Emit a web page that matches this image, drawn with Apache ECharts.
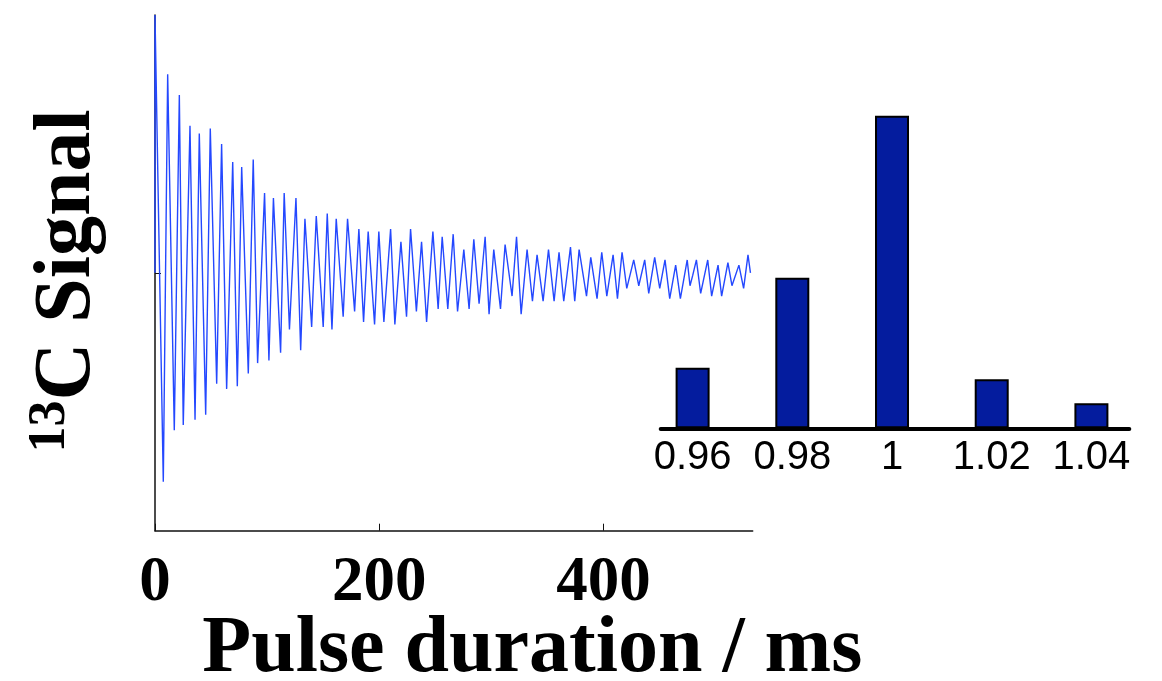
<!DOCTYPE html>
<html>
<head>
<meta charset="utf-8">
<script src="https://cdn.jsdelivr.net/npm/echarts@6/dist/echarts.min.js"></script>
<style>
  html, body { margin: 0; padding: 0; background: #fff; }
  #chart { width: 1162px; height: 681px; }
</style>
</head>
<body>
<div id="chart"></div>
<script>
// Pulse duration (ms) and normalised 13C signal at each sampled turning point
const pulseMs = [
  0, 0, 7.4, 11.3, 17.2, 21.7, 25.2, 31.2, 35.7, 39.5, 45.2, 49.3, 55.0, 59.4, 63.9, 69.3,
  73.4, 77.3, 83.2, 87.6, 91.5, 97.7, 101.6, 105.6, 112.0, 115.2, 119.9, 125.7, 129.9,
  133.7, 139.7, 143.8, 150.0, 153.6, 157.8, 161.6, 167.8, 171.7, 178.0, 181.8, 186.0,
  190.1, 195.8, 199.6, 204.1, 210.1, 213.9, 219.3, 224.3, 227.9, 233.1, 237.7, 242.2,
  247.8, 252.5, 256.1, 261.1, 265.9, 269.8, 275.4, 280.1, 284.3, 289.0, 294.4, 297.9,
  302.1, 308.1, 312.2, 318.4, 322.4, 326.5, 331.8, 336.6, 340.7, 346.1, 350.9, 355.9,
  360.3, 364.5, 370.5, 374.3, 378.2, 384.8, 388.6, 394.2, 398.4, 402.9, 408.5, 412.4,
  416.5, 420.7, 426.9, 431.4, 436.7, 440.3, 445.6, 450.1, 454.8, 459.0, 464.3, 468.5,
  474.6, 477.1, 479.5, 482.8, 486.6, 492.9, 496.4, 502.1, 505.3, 510.9, 514.5, 520.7,
  524.9, 528.8, 531.0
];
const signal = [
  0, 1.00, -0.81, 0.77, -0.61, 0.69, -0.59, 0.57, -0.57, 0.54, -0.55, 0.56, -0.43, 0.50, -0.45, 0.43,
  -0.44, 0.41, -0.39, 0.44, -0.35, 0.31, -0.34, 0.29, -0.31, 0.31, -0.22, 0.29, -0.30,
  0.21, -0.21, 0.22, -0.21, 0.23, -0.22, 0.21, -0.17, 0.21, -0.15, 0.17, -0.19,
  0.16, -0.20, 0.16, -0.19, 0.17, -0.20, 0.12, -0.17, 0.17, -0.15, 0.12, -0.19,
  0.16, -0.14, 0.14, -0.14, 0.15, -0.15, 0.09, -0.14, 0.13, -0.12, 0.14, -0.16,
  0.09, -0.14, 0.11, -0.09, 0.14, -0.16, 0.09, -0.11, 0.07, -0.11, 0.09, -0.11,
  0.08, -0.11, 0.10, -0.11, 0.09, -0.09, 0.06, -0.10, 0.08, -0.09, 0.07, -0.10,
  0.08, -0.06, 0.05, -0.05, 0.05, -0.08, 0.06, -0.06, 0.05, -0.10, 0.03, -0.10,
  0.05, -0.05, -0.01, 0.05, -0.08, 0.05, -0.09, 0.03, -0.09, 0.04, -0.05, 0.03,
  -0.06, 0.07, 0.00
];
const xTicks = [0, 200, 400];
const yTicks = [0];

// Inset: distribution over relative pulse amplitude (percent of the tallest bar)
const ratioCats = [0.96, 0.98, 1.00, 1.02, 1.04];
const ratioCounts = [19.4, 48.2, 100, 15.7, 8.0];

const serifBold = { fontFamily: 'Liberation Serif, Times New Roman, serif', fontWeight: 'bold', color: '#000' };

const chart = echarts.init(document.getElementById('chart'), null, { renderer: 'canvas' });

chart.setOption({
  backgroundColor: '#fff',
  animation: false,
  grid: [
    { left: 155, top: 15, width: 597.7, height: 515.7, outerBoundsMode: 'none', containLabel: false },
    { left: 660.7, top: 115.7, width: 468.6, height: 312.6, outerBoundsMode: 'none', containLabel: false }
  ],
  xAxis: [
    {
      gridIndex: 0, type: 'value', min: 0, max: 533,
      name: 'Pulse duration / ms', nameLocation: 'middle', nameGap: 80, nameMoveOverlap: false,
      nameTextStyle: Object.assign({ fontSize: 80, padding: [0, 0, 0, 157] }, serifBold),
      axisLine: { show: true, onZero: false, lineStyle: { color: '#111', width: 1.5 } },
      axisTick: { show: true, inside: true, length: 7, customValues: xTicks, lineStyle: { color: '#111', width: 1 } },
      axisLabel: Object.assign({ fontSize: 63, margin: 22, customValues: xTicks }, serifBold),
      splitLine: { show: false }
    },
    {
      gridIndex: 1, type: 'value', min: 0.9536, max: 1.0476,
      axisLine: { show: true, onZero: false, lineStyle: { color: '#000', width: 4 } },
      axisTick: { show: false },
      axisLabel: {
        customValues: ratioCats, fontSize: 40, margin: 10, color: '#000',
        fontFamily: 'Liberation Sans, Arial, sans-serif',
        formatter: v => String(parseFloat(Number(v).toFixed(2)))
      },
      splitLine: { show: false }
    }
  ],
  yAxis: [
    {
      gridIndex: 0, type: 'value', min: -1, max: 1,
      name: '{sup|13}{main|C Signal}', nameLocation: 'middle', nameGap: 44, nameRotate: 90, nameMoveOverlap: false,
      nameTextStyle: {
        padding: [0, 16, 0, 0],
        rich: {
          sup: Object.assign({ fontSize: 52, padding: [0, 0, 34, 0] }, serifBold),
          main: Object.assign({ fontSize: 80 }, serifBold)
        }
      },
      axisLine: { show: true, onZero: false, lineStyle: { color: '#111', width: 1.5 } },
      axisTick: { show: true, inside: true, length: 6, customValues: yTicks, lineStyle: { color: '#111', width: 1 } },
      axisLabel: { show: false },
      splitLine: { show: false }
    },
    {
      gridIndex: 1, type: 'value', min: 0, max: 100,
      axisLine: { show: false }, axisTick: { show: false }, axisLabel: { show: false },
      splitLine: { show: false }
    }
  ],
  series: [
    {
      type: 'line', xAxisIndex: 0, yAxisIndex: 0,
      data: pulseMs.map((t, i) => [t, signal[i]]),
      showSymbol: false, symbol: 'none',
      lineStyle: { color: '#2448ff', width: 1.4 },
      z: 3
    },
    {
      type: 'bar', xAxisIndex: 1, yAxisIndex: 1,
      data: ratioCats.map((c, i) => [c, ratioCounts[i]]),
      barWidth: 34,
      itemStyle: { color: '#041c9e', borderColor: '#000', borderWidth: 2 },
      z: 2
    }
  ]
});
</script>
</body>
</html>
